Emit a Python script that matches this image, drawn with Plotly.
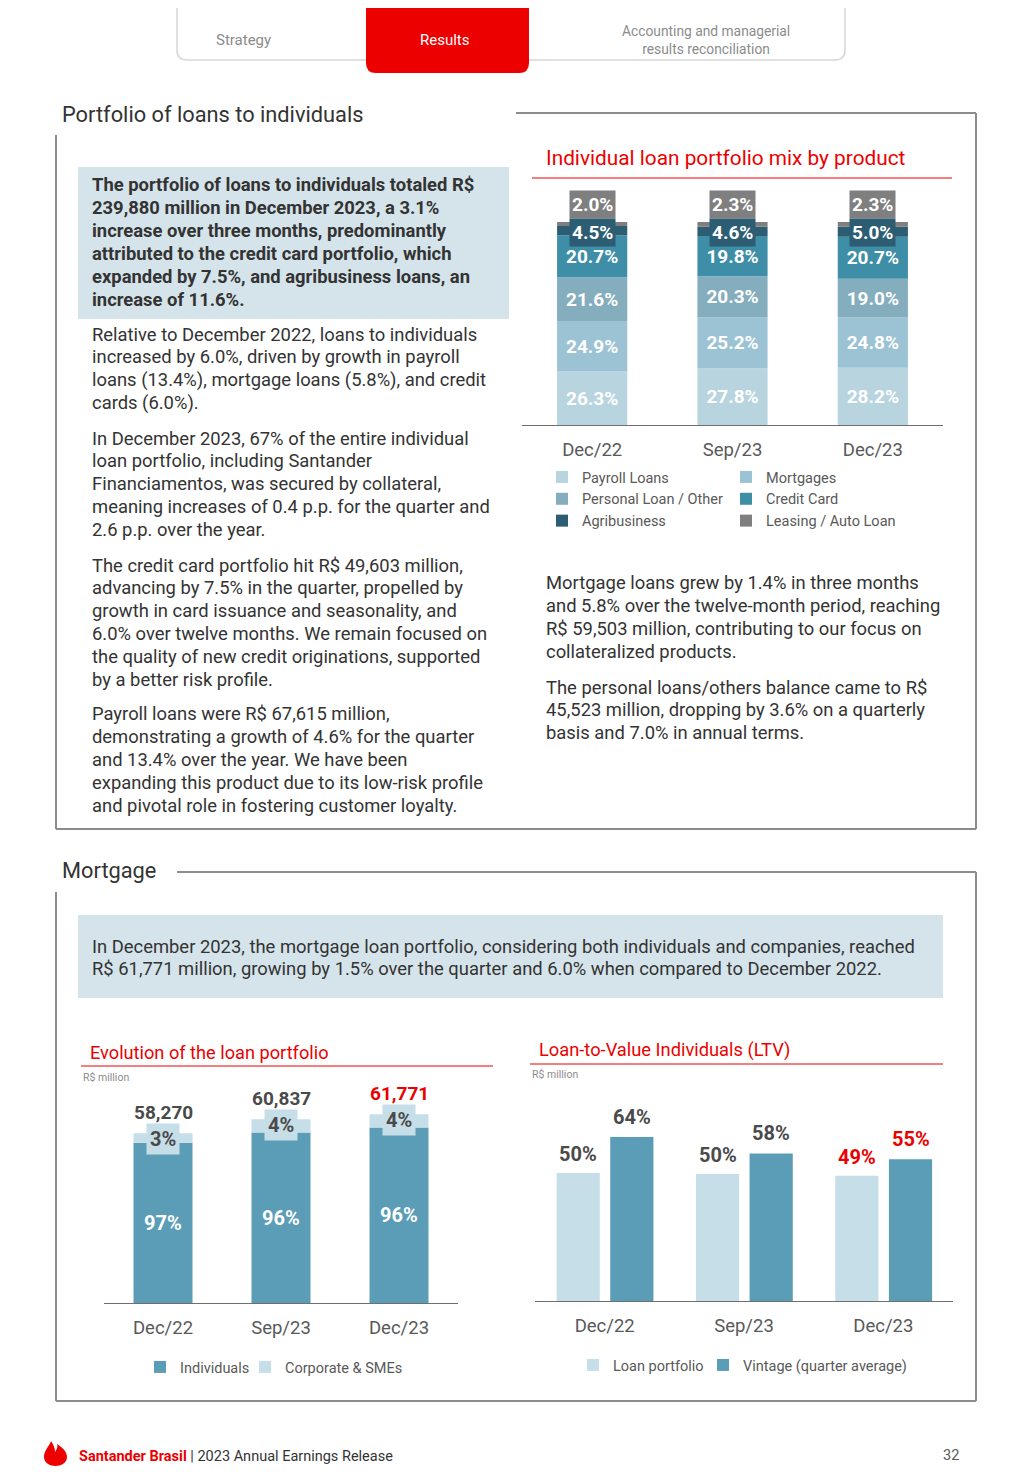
import numpy as np
import plotly.graph_objects as go

# page is 1019x1482; the browser body has an 8px margin, so the figure is
# drawn 8px smaller and every page coordinate is shifted by that margin
PAGE_W, PAGE_H = 1019, 1482
OFF = 8
W, H = PAGE_W - OFF, PAGE_H - OFF
FONT = "Roboto"
RED = "#ec0000"
TXT = "#333333"
GREY = "#595959"
LABEL_DARK = "#4a4a4a"
BODY = 18.4

# ------------------------------------------------------------------ data
mix_periods = ["Dec/22", "Sep/23", "Dec/23"]
mix_series = ["Payroll Loans", "Mortgages", "Personal Loan / Other",
              "Credit Card", "Agribusiness", "Leasing / Auto Loan"]
payroll = [26.3, 27.8, 28.2]
mortgages = [24.9, 25.2, 24.8]
personal = [21.6, 20.3, 19.0]
credit_card = [20.7, 19.8, 20.7]
agribusiness = [4.5, 4.6, 5.0]
leasing = [2.0, 2.3, 2.3]

mort_periods = ["Dec/22", "Sep/23", "Dec/23"]
mort_total = [58270, 60837, 61771]          # R$ million
mort_individuals_pct = [97, 96, 96]
mort_corporate_pct = [3, 4, 4]
mort_series = ["Individuals", "Corporate & SMEs"]

ltv_periods = ["Dec/22", "Sep/23", "Dec/23"]
ltv_portfolio = [50.0, 49.6, 48.9]
ltv_vintage = [64.0, 57.6, 55.3]
ltv_series = ["Loan portfolio", "Vintage (quarter average)"]

# ------------------------------------------------------------------ helpers
def px(x):
    return (x - OFF) / W


def py(y):
    return 1 - (y - OFF) / H


annotations = []
shapes = []


def text(x, y, s, size, color=TXT, bold=False, xanchor="left", family=FONT):
    if xanchor == "left":
        x -= 2  # annotation inner padding
    annotations.append(dict(
        xref="paper", yref="paper", x=px(x), y=py(y), text=s, showarrow=False,
        xanchor=xanchor, yanchor="middle",
        font=dict(family=family, size=size, color=color,
                  weight="bold" if bold else "normal")))


def para(x, y0, lines, size=BODY, bold=False, spacing=22.9, color=TXT):
    for i, ln in enumerate(lines):
        text(x, y0 + i * spacing, ln, size, color, bold)


def line(x0, y0, x1, y1, color="#8c8c8c", width=2):
    shapes.append(dict(type="line", xref="paper", yref="paper",
                       x0=px(x0), y0=py(y0), x1=px(x1), y1=py(y1),
                       line=dict(color=color, width=width)))


def rect(x0, y0, x1, y1, fill):
    shapes.append(dict(type="rect", xref="paper", yref="paper",
                       x0=px(x0), y0=py(y0), x1=px(x1), y1=py(y1),
                       fillcolor=fill, line=dict(width=0), layer="below"))


def P(x, y):
    return f"{px(x):.5f},{py(y):.5f}"


fig = go.Figure()

# ------------------------------------------------------------------ chart 1: mix by product
mix_colors = ["#b7d4df", "#9cc3d3", "#84adbd", "#3d8ea6", "#2c5d73", "#7f7f7f"]
mix_values = [payroll, mortgages, personal, credit_card, agribusiness, leasing]
base = np.zeros(len(mix_periods))
for i, (name, vals, col) in enumerate(zip(mix_series, mix_values, mix_colors)):
    inside = i < 4
    fig.add_trace(go.Bar(
        x=mix_periods, y=vals, base=base.copy(), name=name,
        width=0.5, marker=dict(color=col, line=dict(width=0)),
        text=[f"{v:.1f}%" for v in vals] if inside else None,
        textposition="inside" if inside else "none",
        insidetextanchor="middle", textangle=0,
        textfont=dict(family=FONT, size=19, color="white", weight="bold"),
        xaxis="x", yaxis="y",
        legend="legend" if i % 2 == 0 else "legend2",
        hoverinfo="skip"))
    base += np.array(vals)

stack_top = base
for j in range(len(mix_periods)):
    annotations.append(dict(
        xref="x", yref="y", x=j, y=stack_top[j], yshift=18,
        text=f"{leasing[j]:.1f}%", showarrow=False, bgcolor=mix_colors[5],
        borderpad=2, font=dict(family=FONT, size=19, color="white", weight="bold")))
    annotations.append(dict(
        xref="x", yref="y", x=j, y=stack_top[j], yshift=-10,
        text=f"{agribusiness[j]:.1f}%", showarrow=False, bgcolor=mix_colors[4],
        borderpad=2, font=dict(family=FONT, size=19, color="white", weight="bold")))

# ------------------------------------------------------------------ chart 2: evolution of mortgage portfolio
ind_col, corp_col = "#5b9cb7", "#c6dee7"
tot = np.array(mort_total, dtype=float)
indiv = tot * np.array(mort_individuals_pct) / 100
corp = tot - indiv
EVO_MIN = 27000
fig.add_trace(go.Bar(x=mort_periods, y=indiv, name=mort_series[0], width=0.5,
                     marker=dict(color=ind_col, line=dict(width=0)),
                     xaxis="x2", yaxis="y2", legend="legend3", hoverinfo="skip"))
fig.add_trace(go.Bar(x=mort_periods, y=corp, base=indiv, name=mort_series[1], width=0.5,
                     marker=dict(color=corp_col, line=dict(width=0)),
                     xaxis="x2", yaxis="y2", legend="legend4", hoverinfo="skip"))
for j in range(len(mort_periods)):
    last = j == len(mort_periods) - 1
    annotations.append(dict(
        xref="x2", yref="y2", x=j, y=tot[j], yshift=-6,
        text=f"{mort_corporate_pct[j]}%", showarrow=False, bgcolor=corp_col,
        borderpad=3, font=dict(family=FONT, size=20, color=LABEL_DARK, weight="bold")))
    annotations.append(dict(
        xref="x2", yref="y2", x=j, y=tot[j], yshift=21,
        text=f"{mort_total[j]:,}", showarrow=False,
        font=dict(family=FONT, size=19, color=RED if last else LABEL_DARK, weight="bold")))
    annotations.append(dict(
        xref="x2", yref="y2", x=j, y=(EVO_MIN + indiv[j]) / 2,
        text=f"{mort_individuals_pct[j]}%", showarrow=False,
        font=dict(family=FONT, size=20, color="white", weight="bold")))

# ------------------------------------------------------------------ chart 3: LTV
ltv_light, ltv_dark = "#c5dee7", "#5b9cb7"
BW = 0.31
fig.add_trace(go.Bar(x=ltv_periods, y=ltv_portfolio, name=ltv_series[0], width=BW,
                     offset=-0.345, marker=dict(color=ltv_light, line=dict(width=0)),
                     xaxis="x3", yaxis="y3", legend="legend5", hoverinfo="skip"))
fig.add_trace(go.Bar(x=ltv_periods, y=ltv_vintage, name=ltv_series[1], width=BW,
                     offset=0.04, marker=dict(color=ltv_dark, line=dict(width=0)),
                     xaxis="x3", yaxis="y3", legend="legend6", hoverinfo="skip"))
for j in range(len(ltv_periods)):
    col = RED if j == len(ltv_periods) - 1 else LABEL_DARK
    annotations.append(dict(xref="x3", yref="y3", x=j - 0.345 + BW / 2, y=ltv_portfolio[j],
                            yshift=19, text=f"{ltv_portfolio[j]:.0f}%", showarrow=False,
                            font=dict(family=FONT, size=20, color=col, weight="bold")))
    annotations.append(dict(xref="x3", yref="y3", x=j + 0.04 + BW / 2, y=ltv_vintage[j],
                            yshift=20, text=f"{ltv_vintage[j]:.0f}%", showarrow=False,
                            font=dict(family=FONT, size=20, color=col, weight="bold")))

# ------------------------------------------------------------------ axes
def xax(x0, x1, anchor):
    return dict(domain=[px(x0), px(x1)], anchor=anchor, type="category",
                showline=True, linecolor="#6f6f6f", linewidth=1, ticks="",
                showgrid=False, zeroline=False, fixedrange=True,
                ticklabelstandoff=8,
                tickfont=dict(family=FONT, size=18.5, color=GREY))


def yax(ybot, ytop, rng, anchor):
    return dict(domain=[py(ybot), py(ytop)], anchor=anchor, range=rng,
                visible=False, fixedrange=True, showgrid=False, zeroline=False)


fig.update_layout(
    xaxis=xax(522, 943, "y"),
    yaxis=yax(425, 190, [0, (425 - 190) / 2.03], "x"),
    xaxis2=xax(104, 458, "y2"),
    yaxis2=yax(1303, 1090, [EVO_MIN, EVO_MIN + (1303 - 1090) / 0.00543], "x2"),
    xaxis3=xax(535, 953, "y3"),
    yaxis3=yax(1301, 1090, [0, (1301 - 1090) / 2.5625], "x3"),
)

legend_font = dict(family=FONT, size=14.5, color=GREY)
common_leg = dict(font=legend_font, bgcolor="rgba(0,0,0,0)", itemclick=False,
                  itemdoubleclick=False, traceorder="normal")
fig.update_layout(
    legend=dict(x=px(542), y=py(461), xanchor="left", yanchor="top",
                orientation="v", **common_leg),
    legend2=dict(x=px(726), y=py(461), xanchor="left", yanchor="top",
                 orientation="v", **common_leg),
    legend3=dict(x=px(140), y=py(1367), xanchor="left", yanchor="middle",
                 orientation="h", **common_leg),
    legend4=dict(x=px(245), y=py(1367), xanchor="left", yanchor="middle",
                 orientation="h", **common_leg),
    legend5=dict(x=px(573), y=py(1365), xanchor="left", yanchor="middle",
                 orientation="h", **common_leg),
    legend6=dict(x=px(703), y=py(1365), xanchor="left", yanchor="middle",
                 orientation="h", **common_leg),
)

# ------------------------------------------------------------------ page decoration
# top tabs
shapes.append(dict(type="path", xref="paper", yref="paper",
                   path=f"M {P(177,-10)} L {P(177,50)} Q {P(177,60)} {P(187,60)} "
                        f"L {P(835,60)} Q {P(845,60)} {P(845,50)} L {P(845,-10)} Z",
                   fillcolor="white", line=dict(color="#d6d6d6", width=1.5)))
shapes.append(dict(type="path", xref="paper", yref="paper",
                   path=f"M {P(366,-10)} L {P(366,63)} Q {P(366,73)} {P(376,73)} "
                        f"L {P(519,73)} Q {P(529,73)} {P(529,63)} L {P(529,-10)} Z",
                   fillcolor=RED, line=dict(width=0)))
text(243, 40, "Strategy", 15, "#8c8c8c", xanchor="center")
text(445, 40, "Results", 15, "white", xanchor="center")
text(706, 40, "Accounting and managerial<br>results reconciliation", 13.8, "#8c8c8c",
     xanchor="center")

# section frames
line(516, 113, 976, 113)
line(976, 113, 976, 829)
line(56, 829, 976, 829)
line(56, 135, 56, 829)
line(177, 872, 976, 872)
line(976, 872, 976, 1401)
line(56, 1401, 976, 1401)
line(56, 892, 56, 1401)

text(62, 114, "Portfolio of loans to individuals", 21.8, TXT)
text(62, 870, "Mortgage", 21.8, TXT)

# highlight boxes
rect(78, 167, 509, 319, "#d5e4ea")
rect(78, 915, 943, 998, "#d5e4ea")

para(92, 185, [
    "The portfolio of loans to individuals totaled R$",
    "239,880 million in December 2023, a 3.1%",
    "increase over three months, predominantly",
    "attributed to the credit card portfolio, which",
    "expanded by 7.5%, and agribusiness loans, an",
    "increase of 11.6%.",
], size=18.4, bold=True)
para(92, 334, [
    "Relative to December 2022, loans to individuals",
    "increased by 6.0%, driven by growth in payroll",
    "loans (13.4%), mortgage loans (5.8%), and credit",
    "cards (6.0%).",
])
para(92, 438, [
    "In December 2023, 67% of the entire individual",
    "loan portfolio, including Santander",
    "Financiamentos, was secured by collateral,",
    "meaning increases of 0.4 p.p. for the quarter and",
    "2.6 p.p. over the year.",
])
para(92, 565, [
    "The credit card portfolio hit R$ 49,603 million,",
    "advancing by 7.5% in the quarter, propelled by",
    "growth in card issuance and seasonality, and",
    "6.0% over twelve months. We remain focused on",
    "the quality of new credit originations, supported",
    "by a better risk profile.",
])
para(92, 714, [
    "Payroll loans were R$ 67,615 million,",
    "demonstrating a growth of 4.6% for the quarter",
    "and 13.4% over the year. We have been",
    "expanding this product due to its low-risk profile",
    "and pivotal role in fostering customer loyalty.",
])
para(546, 583, [
    "Mortgage loans grew by 1.4% in three months",
    "and 5.8% over the twelve-month period, reaching",
    "R$ 59,503 million, contributing to our focus on",
    "collateralized products.",
])
para(546, 687, [
    "The personal loans/others balance came to R$",
    "45,523 million, dropping by 3.6% on a quarterly",
    "basis and 7.0% in annual terms.",
])
para(92, 946, [
    "In December 2023, the mortgage loan portfolio, considering both individuals and companies, reached",
    "R$ 61,771 million, growing by 1.5% over the quarter and 6.0% when compared to December 2022.",
], spacing=22)

# chart titles
text(546, 158, "Individual loan portfolio mix by product", 20.8, RED)
line(532, 178, 952, 178, RED, 1)
text(90, 1052, "Evolution of the loan portfolio", 18.2, RED)
line(81, 1066, 493, 1066, RED, 1)
text(83, 1077, "R$ million", 10.5, "#8c8c8c")
text(539, 1050, "Loan-to-Value Individuals (LTV)", 18.3, RED)
line(530, 1064, 943, 1064, RED, 1)
text(532, 1074, "R$ million", 10.5, "#8c8c8c")

# footer
shapes.append(dict(type="path", xref="paper", yref="paper",
                   path=f"M {P(44,1457)} C {P(44,1450)} {P(49,1447)} {P(51,1441)} "
                        f"C {P(54,1445)} {P(55,1449)} {P(55,1452)} "
                        f"C {P(57,1449)} {P(58,1447)} {P(57,1444)} "
                        f"C {P(63,1448)} {P(67,1452)} {P(67,1457)} "
                        f"C {P(67,1463)} {P(61,1466)} {P(55.5,1466)} "
                        f"C {P(50,1466)} {P(44,1463)} {P(44,1457)} Z",
                   fillcolor=RED, line=dict(width=0)))
annotations.append(dict(
    xref="paper", yref="paper", x=px(77), y=py(1456), xanchor="left", yanchor="middle",
    showarrow=False,
    text=f"<b><span style='color:{RED}'>Santander Brasil</span></b> | 2023 Annual Earnings Release",
    font=dict(family=FONT, size=14.5, color=TXT)))
text(951, 1455, "32", 14.5, GREY, xanchor="center")

fig.update_layout(
    width=W, height=H, autosize=False,
    margin=dict(l=0, r=0, t=0, b=0),
    paper_bgcolor="white", plot_bgcolor="white",
    barmode="overlay", hovermode=False, showlegend=True,
    font=dict(family=FONT, color=TXT),
    annotations=annotations, shapes=shapes,
)

fig.write_html("out.html", config={"displayModeBar": False})
